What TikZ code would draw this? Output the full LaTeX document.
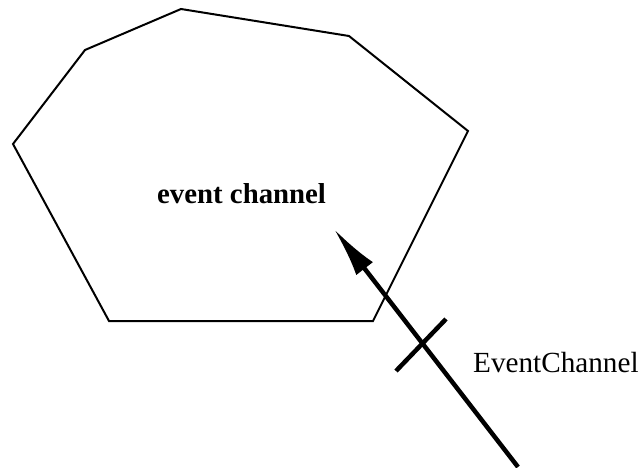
\documentclass[tikz,border=0pt]{standalone}
\usepackage{fontspec}
\setmainfont{Liberation Serif}
\usetikzlibrary{arrows.meta, positioning}

\begin{document}
\begin{tikzpicture}[x=1pt, y=-1pt, >={Latex[length=50pt, width=21pt]}, outline/.style={draw, line width=2pt, line join=miter}, flow/.style={->, line width=4.5pt}, crossbar/.style={draw, line width=4.5pt}, title/.style={font=\fontsize{28.8}{34}\selectfont\bfseries, anchor=base west, inner sep=0pt}, iface/.style={font=\fontsize{29.2}{34}\selectfont, anchor=base west, inner sep=0pt}]
\useasboundingbox (0,0) rectangle (640,468);
\draw[outline] (85,50) -- (181,9) -- (349,36) -- (468,131) -- (373,321) -- (109,321) -- (13,144) -- cycle;
\node[title] (Channel) at (157,204) {event channel};
\coordinate (Tail) at (518,467);
\coordinate (Head) at (334,229);
\draw[flow] (Tail) -- (Head);
\coordinate (BarA) at (396,371);
\coordinate (BarB) at (446,319);
\draw[crossbar] (BarA) -- (BarB);
\node[iface] (Iface) at (473,372) {EventChannel};
\end{tikzpicture}
\end{document}
